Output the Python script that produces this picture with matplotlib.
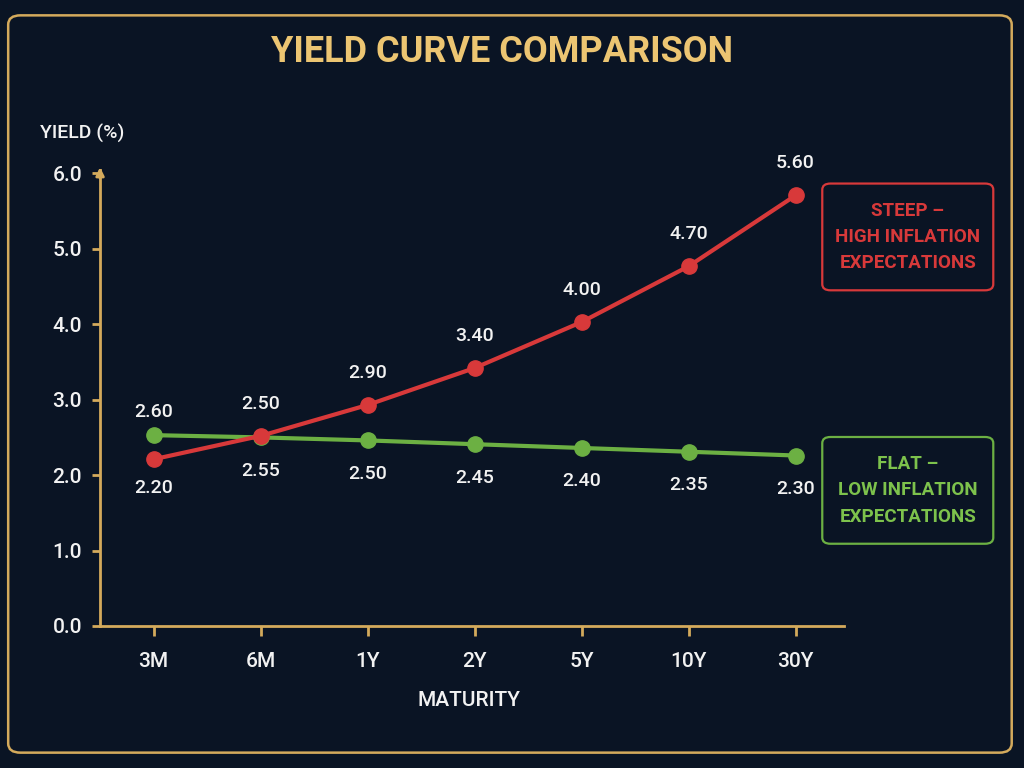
import matplotlib.pyplot as plt
from matplotlib.patches import FancyBboxPatch

# maturities and yields (points as plotted, labels as printed)
maturities = ["3M", "6M", "1Y", "2Y", "5Y", "10Y", "30Y"]
steep_yield = [2.21, 2.52, 2.93, 3.42, 4.03, 4.77, 5.71]
steep_labels = ["2.20", "2.50", "2.90", "3.40", "4.00", "4.70", "5.60"]
flat_yield = [2.53, 2.50, 2.46, 2.41, 2.36, 2.31, 2.26]
flat_labels = ["2.60", "2.55", "2.50", "2.45", "2.40", "2.35", "2.30"]
y_ticks = [0, 1, 2, 3, 4, 5, 6]

BG = "#0a1424"
GOLD = "#d4aa5c"
RED = "#d8393a"
GREEN = "#6cb043"
WHITE = "#f2f2f2"

plt.rcParams['font.family'] = ['Roboto', 'DejaVu Sans']

fig = plt.figure(figsize=(10.24, 7.68), dpi=100, facecolor=BG)

# outer rounded frame
frame = FancyBboxPatch((0.008, 0.02), 0.98, 0.96, transform=fig.transFigure,
                       boxstyle="round,pad=0,rounding_size=0.012",
                       fill=False, edgecolor=GOLD, linewidth=1.8)
fig.patches.append(frame)

fig.text(0.49, 0.932, "YIELD CURVE COMPARISON", ha="center", va="center",
         fontsize=26, fontweight="bold", color="#ecc572")

ax = fig.add_axes([0.0977, 0.185, 0.7263, 0.594])
ax.set_facecolor(BG)
x = list(range(len(maturities)))

ax.plot(x, flat_yield, color=GREEN, linewidth=3, marker="o", markersize=11, zorder=3)
ax.plot(x, steep_yield, color=RED, linewidth=3, marker="o", markersize=11, zorder=4)

for i in x:
    if i == 0:
        s_off, f_off = -21, 17
    else:
        s_off, f_off = 23, -24
    ax.annotate(steep_labels[i], (i, steep_yield[i]), xytext=(0, s_off),
                textcoords="offset points", ha="center", va="center",
                fontsize=14, fontweight="medium", color=WHITE)
    ax.annotate(flat_labels[i], (i, flat_yield[i]), xytext=(0, f_off),
                textcoords="offset points", ha="center", va="center",
                fontsize=14, fontweight="medium", color=WHITE)

ax.set_ylim(0, 6.05)
ax.set_xticks(x)
ax.set_xticklabels(maturities)
ax.set_yticks(y_ticks)
ax.set_yticklabels([f"{v:.1f}" for v in y_ticks])

for side in ["top", "right"]:
    ax.spines[side].set_visible(False)
for side in ["left", "bottom"]:
    ax.spines[side].set_color(GOLD)
    ax.spines[side].set_linewidth(2)
ax.set_xlim(-0.5, 6.45)
ax.spines["bottom"].set_bounds(-0.5, 6.45)

ax.tick_params(axis="both", colors=GOLD, width=2, length=7, labelcolor=WHITE,
               labelsize=15, direction="out")
ax.tick_params(axis="x", pad=12)
ax.tick_params(axis="y", pad=7, length=6)
for lbl in ax.get_xticklabels() + ax.get_yticklabels():
    lbl.set_fontweight("medium")

# arrow head on y axis
ax.annotate("", xy=(-0.5, 6.12), xytext=(-0.5, 5.9),
            arrowprops=dict(arrowstyle="-|>", color=GOLD, lw=2, mutation_scale=12),
            annotation_clip=False)

fig.text(0.039, 0.826, "YIELD (%)", ha="left", va="center", fontsize=14,
         fontweight="medium", color=WHITE)
fig.text(0.458, 0.088, "MATURITY", ha="center", va="center", fontsize=15,
         fontweight="medium", color=WHITE)

# annotation boxes
for y0, color, text in [(0.622, RED, "STEEP \u2013\nHIGH INFLATION\nEXPECTATIONS"),
                        (0.292, GREEN, "FLAT \u2013\nLOW INFLATION\nEXPECTATIONS")]:
    box = FancyBboxPatch((0.803, y0), 0.167, 0.139, transform=fig.transFigure,
                         boxstyle="round,pad=0,rounding_size=0.008",
                         fill=False, edgecolor=color, linewidth=1.6)
    fig.patches.append(box)
    fig.text(0.8865, y0 + 0.0695, text, ha="center", va="center",
             fontsize=13.5, fontweight="bold", color=color if color == RED else "#7dc24c",
             linespacing=1.6)

fig.savefig("out.png", dpi=100, facecolor=BG)
